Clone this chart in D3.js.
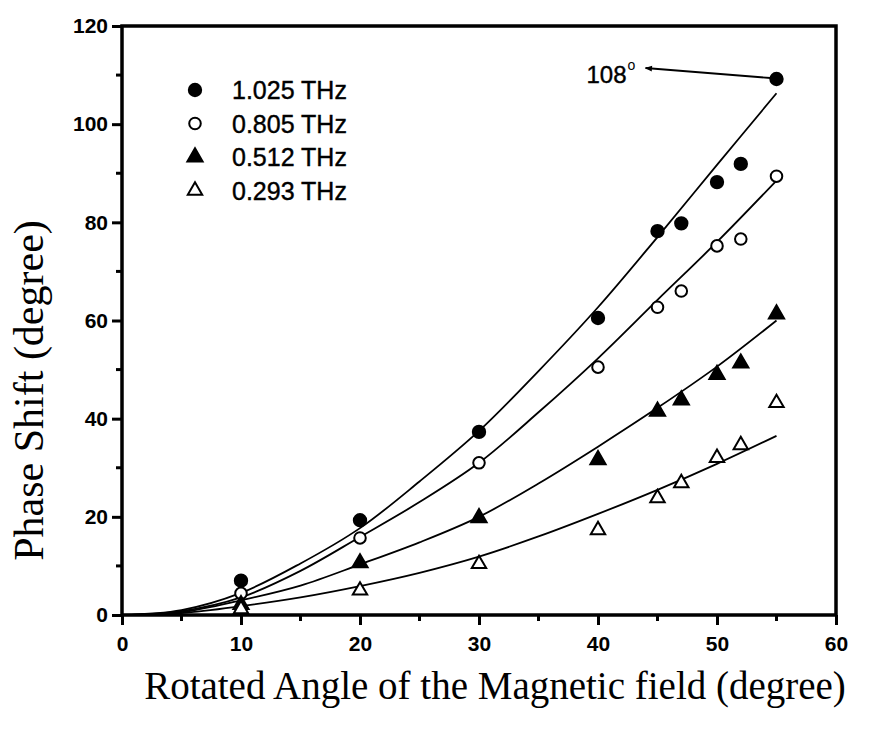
<!DOCTYPE html>
<html>
<head>
<meta charset="utf-8">
<script src="https://d3js.org/d3.v7.min.js"></script>
<style>
  body { margin: 0; background: #fff; }
  .tick text { font-family: "Liberation Sans", Arial, sans-serif; font-weight: bold; font-size: 21px; fill: #000; }
  .axis path, .axis line { stroke: #000; }
</style>
</head>
<body>
<div class="main-container"></div>
<script>
// measured angles (degree)
const angles = [10, 20, 30, 40, 45, 47, 50, 52, 55];
const seriesNames = ["1.025 THz", "0.805 THz", "0.512 THz", "0.293 THz"];
const phase1025 = [7, 19.3, 37.3, 60.5, 78.2, 79.8, 88.2, 91.9, 109.2];
const phase805 = [4.4, 15.7, 31, 50.5, 62.7, 66, 75.2, 76.6, 89.4];
const phase512 = [2.1, 10.6, 19.8, 31.6, 41.5, 43.8, 49, 51.3, 61.3];
const phase293 = [1.2, 5, 10.4, 17.3, 23.8, 26.9, 32, 34.6, 43.2];

// fitted curves
const fitAngles = [0, 5, 10, 15, 20, 25, 30, 35, 40, 45, 50, 55];
const fit1025 = [0, 1.0, 4.5, 10.5, 17.7, 27.2, 37.5, 49.7, 62.7, 77, 91.7, 106.3];
const fit805 = [0, 0.8, 3.6, 9, 15.9, 23, 31, 41.3, 52.3, 64.2, 76, 88.5];
const fit512 = [0, 0.6, 3, 6, 10.3, 14.8, 20, 26.8, 34.3, 42.2, 50.6, 60];
const fit293 = [0, 0.4, 1.8, 3.6, 5.9, 8.6, 11.9, 16, 20.6, 25.5, 30.8, 36.5];

const xTicks = [0, 10, 20, 30, 40, 50, 60];
const yTicks = [0, 20, 40, 60, 80, 100, 120];

let margin = {top: 26, right: 36, bottom: 118, left: 122},
  width = 714,
  height = 589;

const svg = d3.select(".main-container")
  .append("svg")
  .attr("width", 872)
  .attr("height", 733)
  .append("g")
  .attr("transform", "translate(" + margin.left + "," + margin.top + ")");

let x = d3.scaleLinear().domain([0, 60]).range([0, width]);
let y = d3.scaleLinear().domain([0, 120]).range([height, 0]);

// minor ticks
svg.append("g")
  .attr("transform", "translate(0," + height + ")")
  .selectAll("line")
  .data(d3.range(5, 60, 10))
  .join("line")
  .attr("x1", d => x(d)).attr("x2", d => x(d))
  .attr("y1", 0).attr("y2", 6)
  .attr("stroke", "#000").attr("stroke-width", 3);
svg.append("g")
  .selectAll("line")
  .data(d3.range(10, 120, 20))
  .join("line")
  .attr("y1", d => y(d)).attr("y2", d => y(d))
  .attr("x1", 0).attr("x2", -6)
  .attr("stroke", "#000").attr("stroke-width", 3);

// axes
svg.append("g")
  .attr("class", "axis")
  .attr("transform", "translate(0," + height + ")")
  .call(d3.axisBottom(x).tickValues(xTicks).tickSize(10).tickPadding(11).tickSizeOuter(0))
  .call(g => g.select(".domain").remove())
  .call(g => g.selectAll("line").attr("stroke-width", 3));

svg.append("g")
  .attr("class", "axis")
  .call(d3.axisLeft(y).tickValues(yTicks).tickSize(10).tickPadding(4).tickSizeOuter(0))
  .call(g => g.select(".domain").remove())
  .call(g => g.selectAll("line").attr("stroke-width", 3));

// frame
svg.append("rect")
  .attr("width", width)
  .attr("height", height)
  .attr("fill", "none")
  .attr("stroke", "#000")
  .attr("stroke-width", 3.5);

// fit curves
const fits = [fit1025, fit805, fit512, fit293];
const line = d3.line()
  .x(d => x(d[0]))
  .y(d => y(d[1]))
  .curve(d3.curveCatmullRom);
fits.forEach(f => {
  svg.append("path")
    .datum(fitAngles.map((a, i) => [a, f[i]]))
    .attr("fill", "none")
    .attr("stroke", "#000")
    .attr("stroke-width", 1.8)
    .attr("d", line);
});

// markers
const markers = [
  {type: d3.symbolCircle, size: 120, fill: "#000"},
  {type: d3.symbolCircle, size: 105, fill: "#fff"},
  {type: d3.symbolTriangle, size: 100, fill: "#000"},
  {type: d3.symbolTriangle, size: 90, fill: "#fff"}
];
const series = [phase1025, phase805, phase512, phase293];

series.forEach((s, k) => {
  svg.append("g")
    .selectAll("path")
    .data(angles.map((a, i) => [a, s[i]]))
    .join("path")
    .attr("d", d3.symbol().type(markers[k].type).size(markers[k].size))
    .attr("transform", d => `translate(${x(d[0])},${y(d[1])})`)
    .attr("fill", markers[k].fill)
    .attr("stroke", "#000")
    .attr("stroke-width", 2);
});

// legend
const legend = svg.append("g").attr("transform", "translate(73,64)");
seriesNames.forEach((name, k) => {
  const row = legend.append("g").attr("transform", `translate(0,${k * 33.5})`);
  row.append("path")
    .attr("d", d3.symbol().type(markers[k].type).size(markers[k].size))
    .attr("fill", markers[k].fill)
    .attr("stroke", "#000")
    .attr("stroke-width", 2);
  row.append("text")
    .attr("x", 37)
    .attr("dy", "0.36em")
    .attr("stroke", "#000")
    .attr("stroke-width", 0.4)
    .style("font-family", "'Liberation Sans', Arial, sans-serif")
    .style("font-size", "25px")
    .text(name);
});

// 108 degree annotation
const endPt = [angles[angles.length - 1], phase1025[phase1025.length - 1]];
svg.append("defs").append("marker")
  .attr("id", "arrow")
  .attr("viewBox", "0 0 10 10")
  .attr("refX", 9).attr("refY", 5)
  .attr("markerWidth", 5).attr("markerHeight", 4)
  .attr("orient", "auto")
  .append("path")
  .attr("d", "M0,1 L10,5 L0,9 z")
  .attr("fill", "#000");
svg.append("line")
  .attr("x1", x(endPt[0]) - 6)
  .attr("y1", y(endPt[1]) - 1)
  .attr("x2", x(endPt[0]) - 131)
  .attr("y2", y(endPt[1]) - 11)
  .attr("stroke", "#000")
  .attr("stroke-width", 1.8)
  .attr("marker-end", "url(#arrow)");
svg.append("text")
  .attr("x", x(endPt[0]) - 190)
  .attr("y", y(endPt[1]) + 4)
  .attr("stroke", "#000")
  .attr("stroke-width", 0.4)
  .style("font-family", "'Liberation Sans', Arial, sans-serif")
  .style("font-size", "24px")
  .text("108")
  .append("tspan")
  .attr("dy", -13)
  .attr("dx", 1)
  .attr("stroke-width", 0)
  .style("font-size", "14px")
  .text("o");

// axis titles
svg.append("text")
  .attr("x", width / 2 + 16)
  .attr("y", height + 84)
  .attr("text-anchor", "middle")
  .style("font-family", "'Liberation Serif', 'Times New Roman', serif")
  .style("font-size", "39px")
  .text("Rotated Angle of the Magnetic field (degree)");

svg.append("text")
  .attr("transform", `translate(${-79},${height / 2 + 70}) rotate(-90)`)
  .attr("text-anchor", "middle")
  .style("font-family", "'Liberation Serif', 'Times New Roman', serif")
  .style("font-size", "42px")
  .text("Phase Shift (degree)");
</script>
</body>
</html>
